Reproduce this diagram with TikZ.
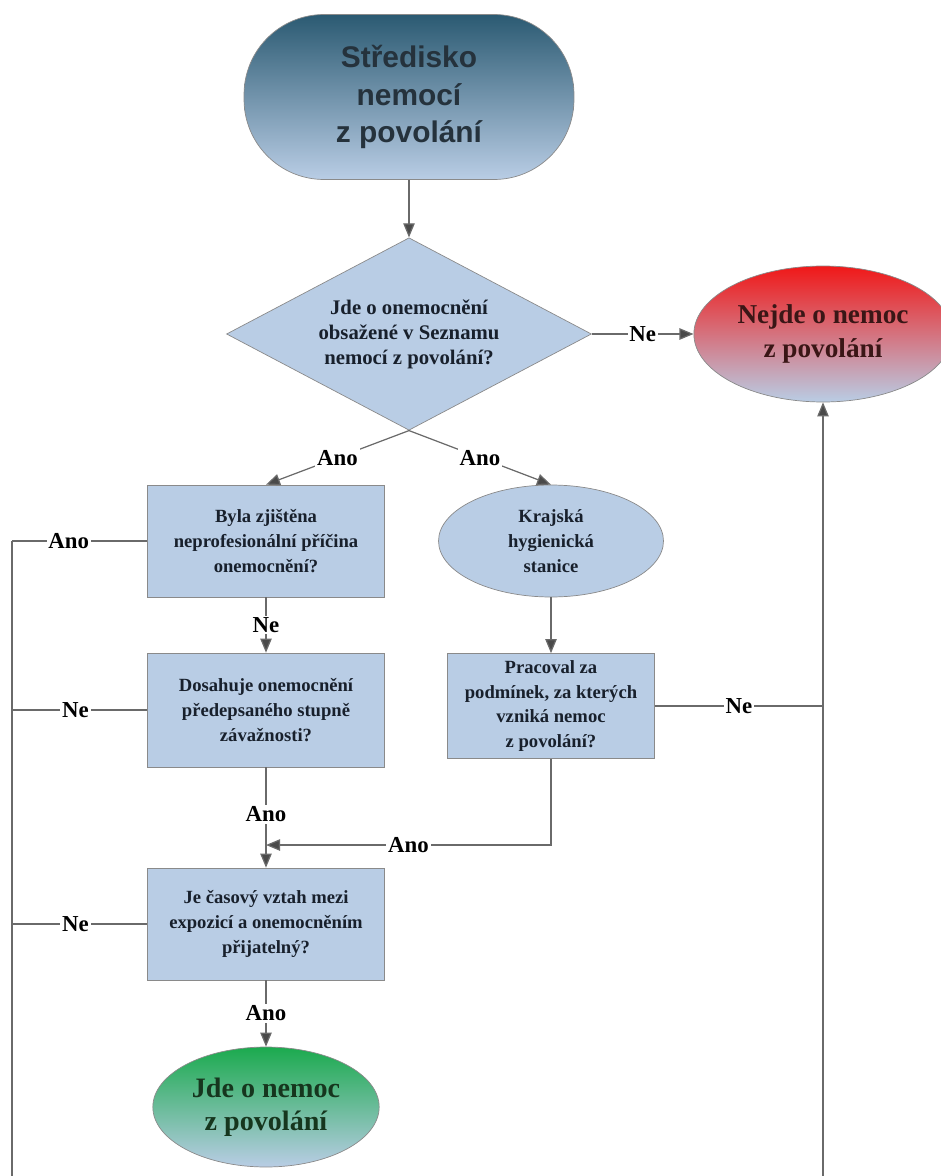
\documentclass[tikz,border=0pt]{standalone}
\usepackage{fontspec}
\setmainfont{Liberation Serif}
\newfontfamily\headfont{Liberation Sans}
\usetikzlibrary{shapes.geometric}
\usetikzlibrary{arrows.meta}
\usetikzlibrary{positioning}
\definecolor{boxblue}{HTML}{B9CDE5}
\definecolor{boxedge}{HTML}{8A8A8A}
\definecolor{linegray}{HTML}{6A6A6A}
\definecolor{tipgray}{HTML}{4A4A4A}
\definecolor{darkteal}{HTML}{2B5A72}
\definecolor{headtext}{HTML}{25323C}
\definecolor{qtext}{HTML}{18202C}
\definecolor{nored}{HTML}{F01818}
\definecolor{notext}{HTML}{3A1616}
\definecolor{yesgreen}{HTML}{1BAA4E}
\definecolor{yestext}{HTML}{16361E}
\tikzset{
  qbox/.style={rectangle, draw=boxedge, fill=boxblue, text=qtext, align=center,
    font=\fontsize{10.6}{14.2}\selectfont\bfseries, inner sep=2pt},
  lbl/.style={fill=white, inner sep=1pt, text=black, font=\fontsize{13}{15}\selectfont\bfseries},
  conn/.style={draw=linegray, line width=0.7pt},
  arr/.style={conn, -{Triangle[length=8pt, width=6.5pt, fill=tipgray]}},
}
\begin{document}
\begin{tikzpicture}[x=0.02cm, y=-0.02cm]%nemoc z povolani
\useasboundingbox (0,0) rectangle (940,1176);
\node[rectangle, rounded corners=1.6cm, draw=boxedge, top color=darkteal, bottom color=boxblue,
  minimum width=6.6cm, minimum height=3.3cm, align=center, text=headtext,
  font=\headfont\fontsize{17}{21.5}\selectfont\bfseries] (stredisko) at (409,97) {Středisko\\nemocí\\z povolání};
\node[diamond, draw=boxedge, fill=boxblue, text=qtext, align=center, inner sep=0pt, aspect=1.9,
  minimum width=7.3cm, minimum height=3.85cm, font=\fontsize{11.8}{14.2}\selectfont\bfseries] (seznam) at (409,334)
  {Jde o onemocnění\\obsažené v Seznamu\\nemocí z povolání?};
\node[ellipse, draw=boxedge, top color=nored, bottom color=boxblue, minimum width=4.7cm, minimum height=2.72cm,
  align=center, text=notext, font=\fontsize{15.5}{19}\selectfont\bfseries] (nejde) at (823,334) {Nejde o nemoc\\z povolání};
\node[qbox, minimum width=4.74cm, minimum height=2.24cm] (priciny) at (266,541) {Byla zjištěna\\neprofesionální příčina\\onemocnění?};
\node[qbox, minimum width=4.74cm, minimum height=2.28cm] (stupen) at (266,710) {Dosahuje onemocnění\\předepsaného stupně\\závažnosti?};
\node[qbox, minimum width=4.74cm, minimum height=2.24cm] (vztah) at (266,924) {Je časový vztah mezi\\expozicí a onemocněním\\přijatelný?};
\node[ellipse, draw=boxedge, fill=boxblue, text=qtext, align=center, minimum width=4.5cm, minimum height=2.24cm,
  inner sep=0pt, font=\fontsize{10.6}{14.2}\selectfont\bfseries] (khs) at (551,541) {Krajská\\hygienická\\stanice};
\node[qbox, minimum width=4.14cm, minimum height=2.1cm] (podminky) at (551,706) {Pracoval za\\podmínek, za kterých\\vzniká nemoc\\z povolání?};
\node[ellipse, draw=boxedge, top color=yesgreen, bottom color=boxblue, minimum width=4.5cm, minimum height=2.4cm,
  align=center, text=yestext, font=\fontsize{16}{19}\selectfont\bfseries] (jde) at (266,1107) {Jde o nemoc\\z povolání};
\coordinate (lt) at (12,541);
\coordinate (lb) at (12,1176);
\coordinate (rb) at (823,1176);
\coordinate (spoj) at (266,845);
\draw[arr] (stredisko) -- (seznam);
\draw[arr] (seznam.east) -- node[lbl]{Ne} (nejde.west);
\draw[arr] (seznam.south) -- node[lbl]{Ano} (priciny.north);
\draw[arr] (seznam.south) -- node[lbl]{Ano} (khs.north);
\draw[arr] (priciny) -- node[lbl]{Ne} (stupen);
\draw[arr] (stupen) -- node[lbl, pos=0.47]{Ano} (vztah);
\draw[arr] (khs) -- (podminky);
\draw[arr] (podminky.south) |- node[lbl, pos=0.75]{Ano} (spoj);
\draw[arr] (vztah) -- node[lbl]{Ano} (jde);
\draw[conn] (priciny.west) -- node[lbl, pos=0.58]{Ano} (priciny.west -| lt);
\draw[conn] (stupen.west) -- node[lbl, pos=0.53]{Ne} (stupen.west -| lt);
\draw[conn] (vztah.west) -- node[lbl, pos=0.53]{Ne} (vztah.west -| lt);
\draw[conn] (lt) -- (lb);
\draw[conn] (podminky.east) -- node[lbl]{Ne} (podminky.east -| rb);
\draw[arr] (rb) -- (nejde.south);
\end{tikzpicture}
\end{document}
